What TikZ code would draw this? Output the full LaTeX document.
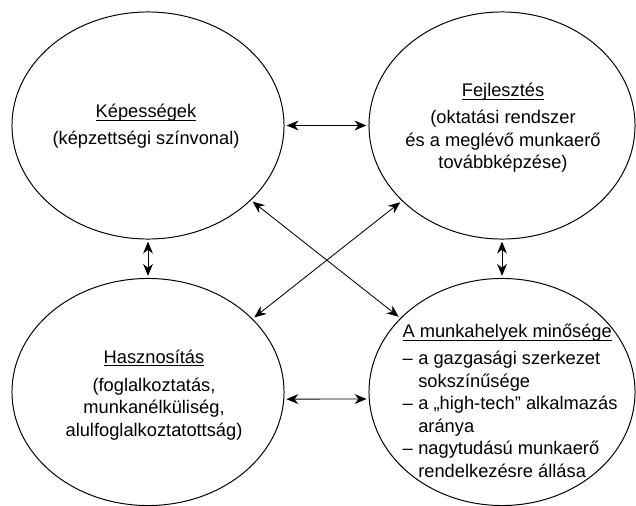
\documentclass[tikz,border=0pt]{standalone}
\usepackage{amsmath}
\usepackage{fontspec}
\setmainfont{Liberation Sans}
\usetikzlibrary{shapes.geometric, arrows.meta}

\newcommand{\hdr}[1]{\underline{\smash[b]{#1}}}

\tikzset{
    blob/.style={draw, ellipse, line width=0.7pt, minimum height=5.675cm, inner sep=0pt},
    lbl/.style={align=center, inner sep=0pt, font=\fontsize{13}{16}\selectfont},
    link/.style={{Stealth[length=8.5pt,width=7pt]}-{Stealth[length=8.5pt,width=7pt]},
        line width=0.6pt, shorten <=1.5pt, shorten >=1.5pt}
}

\begin{document}
\begin{tikzpicture}[x=0.025cm, y=-0.025cm]

        \useasboundingbox (0,0) rectangle (636,505);

        \node[blob, minimum width=6.8cm] (kep) at (148,125.5) {};
        \node[blob, minimum width=6.65cm] (fej) at (502,125.5) {};
        \node[blob, minimum width=6.8cm] (has) at (148,392) {};
        \node[blob, minimum width=6.65cm] (mun) at (502,392) {};

        \node[lbl] (kept) at (146,126)
            {\hdr{Képességek}\\[3pt](képzettségi színvonal)};

        \node[lbl] (fejt) at (503,128)
            {\hdr{Fejlesztés}\\[3pt](oktatási rendszer\\és a meglévő munkaerő\\továbbképzése)};

        \node[lbl] (hast) at (154,395)
            {\hdr{Hasznosítás}\\[4pt](foglalkoztatás,\\munkanélküliség,\\alulfoglalkoztatottság)};

        \node[lbl] (munt) at (510,403) {%
            \begin{tabular}{@{}l@{\hspace{4pt}}l@{}}
                \multicolumn{2}{@{}l@{}}{\hdr{A munkahelyek minősége}}\\[3pt]
                – & a gazgasági szerkezet\\
                  & sokszínűsége\\
                – & a „high-tech” alkalmazás\\
                  & aránya\\
                – & nagytudású munkaerő\\
                  & rendelkezésre állása
            \end{tabular}};

        \draw[link] (kep.east) -- (fej.west);
        \draw[link] (has.-3) -- (mun.183);

        \draw[link] (kep.south) -- (has.north);
        \draw[link] (fej.south) -- (mun.north);

        \draw[link] (kep.-36) -- (mun.144);
        \draw[link] (fej.217) -- (has.35);

\end{tikzpicture}
\end{document}
